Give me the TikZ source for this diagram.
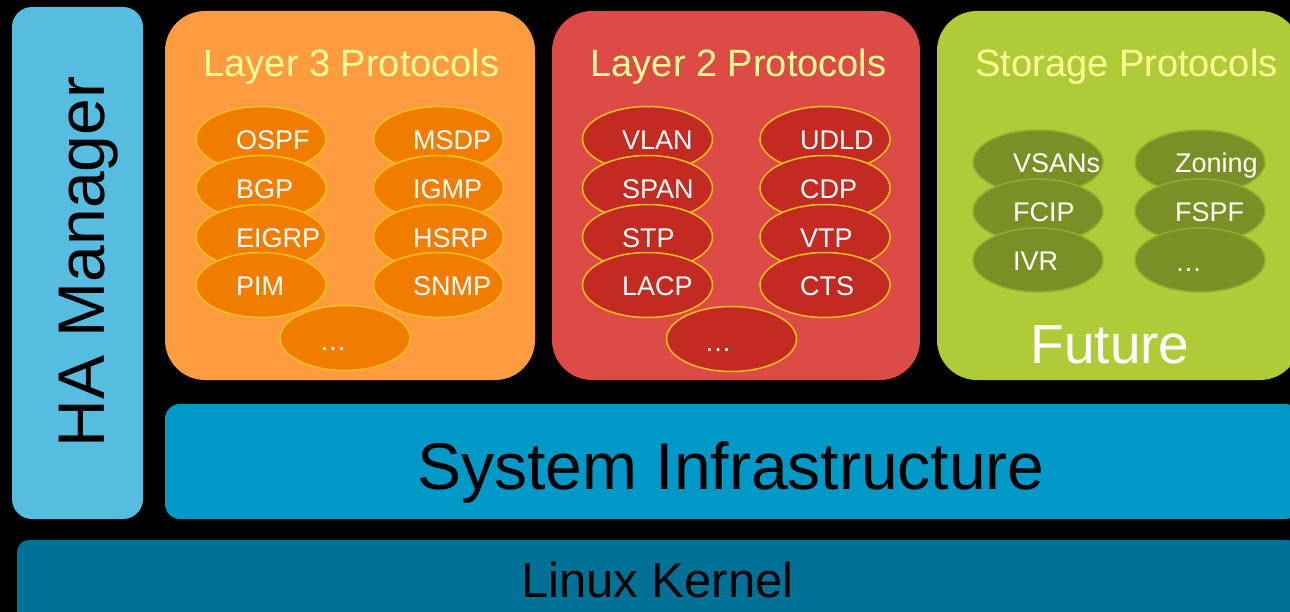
\documentclass[tikz,border=0pt]{standalone}
\usepackage{fontspec}
\setmainfont{Liberation Sans}
\usetikzlibrary{shapes.geometric}
\definecolor{haC}{HTML}{56BDE0}
\definecolor{lthreeC}{HTML}{FF9C40}
\definecolor{lthreeE}{HTML}{F07D00}
\definecolor{ltwoC}{HTML}{DC4B45}
\definecolor{ltwoE}{HTML}{C22A22}
\definecolor{stoC}{HTML}{AFCB37}
\definecolor{stoE}{HTML}{7B8F27}
\definecolor{stoB}{HTML}{93AD2E}
\definecolor{goldB}{HTML}{F2C21B}
\definecolor{sysC}{HTML}{0098C7}
\definecolor{linC}{HTML}{007196}
\definecolor{titleC}{HTML}{FFFF99}
\tikzset{
  proto/.style={ellipse, minimum width=130pt, minimum height=65pt, inner sep=0pt, line width=1.5pt},
  lthreeell/.style={proto, fill=lthreeE, draw=goldB},
  ltwoell/.style={proto, fill=ltwoE, draw=goldB},
  stoell/.style={proto, fill=stoE, draw=stoB, minimum height=64pt},
  ptext/.style={text=white, font=\fontsize{27}{29}\selectfont, inner sep=0pt, anchor=base west},
  title/.style={text=titleC, font=\fontsize{38}{40}\selectfont, inner sep=0pt, anchor=base},
  group/.style={rounded corners=40pt},
}
\begin{document}
\begin{tikzpicture}[x=1pt,y=-1pt]
\useasboundingbox (0,0) rectangle (1290,612);
\fill[black] (0,0) rectangle (1290,612);
\clip (0,0) rectangle (1290,612);

% HA Manager
\fill[haC, rounded corners=20pt] (12,7) rectangle (143,519);
\node[rotate=90, anchor=base, inner sep=0pt, font=\fontsize{66}{70}\selectfont] (ha) at (104,262) {HA Manager};

% Layer 3
\fill[lthreeC, group] (165,11) rectangle (535,380);
\node[title] (t3) at (351.5,77) {Layer 3 Protocols};
\node[lthreeell] (ospf) at (261,139) {};
\node[lthreeell] (msdp) at (438.5,139) {};
\node[ptext] (ospft) at (236,150) {OSPF};
\node[ptext] (msdpt) at (413,150) {MSDP};
\node[lthreeell] (bgp) at (261,188) {};
\node[lthreeell] (igmp) at (438.5,188) {};
\node[ptext] (bgpt) at (236,199) {BGP};
\node[ptext] (igmpt) at (413,199) {IGMP};
\node[lthreeell] (eigrp) at (261,237) {};
\node[lthreeell] (hsrp) at (438.5,237) {};
\node[ptext] (eigrpt) at (236,248) {EIGRP};
\node[ptext] (hsrpt) at (413,248) {HSRP};
\node[lthreeell] (pim) at (261,285) {};
\node[lthreeell] (snmp) at (438.5,285) {};
\node[ptext] (pimt) at (236,296) {PIM};
\node[ptext] (snmpt) at (413,296) {SNMP};
\node[lthreeell] (dots3) at (345,338) {};
\node[ptext, anchor=base] (dots3t) at (333,350) {…};

% Layer 2
\fill[ltwoC, group] (552,11) rectangle (920,380);
\node[title] (t2) at (738.5,77) {Layer 2 Protocols};
\node[ltwoell] (vlan) at (647.5,139) {};
\node[ltwoell] (udld) at (825,139) {};
\node[ptext] (vlant) at (622,150) {VLAN};
\node[ptext] (udldt) at (800,150) {UDLD};
\node[ltwoell] (span) at (647.5,188) {};
\node[ltwoell] (cdp) at (825,188) {};
\node[ptext] (spant) at (622,199) {SPAN};
\node[ptext] (cdpt) at (800,199) {CDP};
\node[ltwoell] (stp) at (647.5,237) {};
\node[ltwoell] (vtp) at (825,237) {};
\node[ptext] (stpt) at (622,248) {STP};
\node[ptext] (vtpt) at (800,248) {VTP};
\node[ltwoell] (lacp) at (647.5,285) {};
\node[ltwoell] (cts) at (825,285) {};
\node[ptext] (lacpt) at (622,296) {LACP};
\node[ptext] (ctst) at (800,296) {CTS};
\node[ltwoell] (dots2) at (731.5,339) {};
\node[ptext, anchor=base] (dots2t) at (718,351) {…};

% Storage
\fill[stoC, group] (937,11) rectangle (1300,380);
\node[title] (ts) at (1126.5,77) {Storage Protocols};
\node[stoell] (vsan) at (1038,162) {};
\node[stoell] (zon) at (1200,162) {};
\node[ptext] (vsant) at (1013,173) {VSANs};
\node[ptext] (zont) at (1175,173) {Zoning};
\node[stoell] (fcip) at (1038,211) {};
\node[stoell] (fspf) at (1200,211) {};
\node[ptext] (fcipt) at (1013,222) {FCIP};
\node[ptext] (fspft) at (1175,222) {FSPF};
\node[stoell] (ivr) at (1038,260) {};
\node[stoell] (dotss) at (1200,260) {};
\node[ptext] (ivrt) at (1013,271) {IVR};
\node[ptext] (dotsst) at (1175,272) {…};
\node[anchor=base, inner sep=0pt, text=white, font=\fontsize{55}{60}\selectfont] (fut) at (1110,363) {Future};

% System Infrastructure
\fill[sysC, rounded corners=15pt] (165,404) rectangle (1300,519);
\node[anchor=base, inner sep=0pt, font=\fontsize{66}{70}\selectfont] (sys) at (731,489) {System Infrastructure};

% Linux Kernel
\fill[linC, rounded corners=12pt] (17,540) rectangle (1300,630);
\node[anchor=base, inner sep=0pt, font=\fontsize{49}{52}\selectfont] (lin) at (657.5,597) {Linux Kernel};
\end{tikzpicture}
\end{document}
